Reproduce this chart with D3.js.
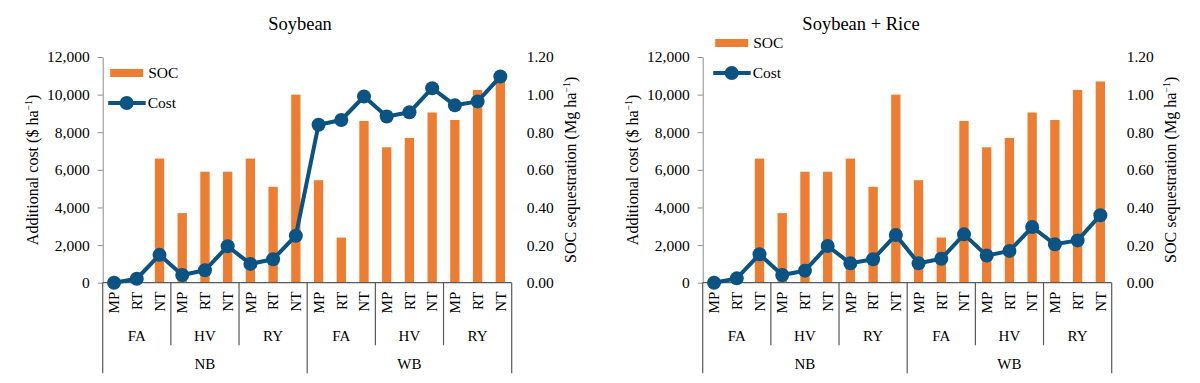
<!DOCTYPE html>
<html>
<head>
<meta charset="utf-8">
<script src="https://cdn.jsdelivr.net/npm/d3@7"></script>
<style>
  body { margin: 0; background: #fff; }
</style>
</head>
<body>
<div id="chart"></div>
<script>
// categories
var basins = ["NB", "WB"];
var rotations = ["FA", "HV", "RY"];
var tillage = ["MP", "RT", "NT"];

// SOC sequestration (Mg/ha), same in both panels
var socValues = [0, 0, 0.66, 0.37, 0.59, 0.59, 0.66, 0.51, 1.00,
                 0.545, 0.24, 0.86, 0.72, 0.77, 0.905, 0.865, 1.025, 1.07];

// additional cost ($/ha)
var costSoybean = [0, 210, 1480, 410, 660, 1940, 1000, 1250, 2500,
                   8400, 8650, 9900, 8840, 9060, 10340, 9430, 9640, 10960];
var costSoybeanRice = [0, 230, 1510, 410, 640, 1950, 1030, 1250, 2540,
                       1030, 1270, 2570, 1440, 1690, 2960, 2040, 2250, 3590];

var costTicks = [0, 2000, 4000, 6000, 8000, 10000, 12000];
var socTicks = [0, 0.2, 0.4, 0.6, 0.8, 1.0, 1.2];

var orange = "#ED7D31";
var navy = "#0B5382";
var serif = "'Liberation Serif'";

function init() {
    var svg = d3.select("#chart")
        .append("svg")
        .attr("width", 1200)
        .attr("height", 383);

    svg.append("rect").attr("width", 1200).attr("height", 383).attr("fill", "#fff");

    panel(svg, 0, "Soybean", 300, costSoybean, { y1: 16, y2: 46, dx: 0 });
    panel(svg, 600, "Soybean + Rice", 861, costSoybeanRice, { y1: -14, y2: 16, dx: 5 });

    // d3 axes put their own font on the group, so set the face on every label
    svg.selectAll("g").attr("font-family", null);
    svg.selectAll("text").style("font-family", serif).style("fill", "#000");
}

function panel(svg, offset, title, titleX, costs, leg) {
    var left = 102.7, top = 57, w = 409, h = 225.7;

    // flatten the three category levels
    var cats = [];
    basins.forEach(function (b) {
        rotations.forEach(function (r) {
            tillage.forEach(function (t) {
                cats.push({ basin: b, rot: r, till: t, key: b + r + t });
            });
        });
    });
    cats.forEach(function (c, i) {
        c.soc = socValues[i];
        c.cost = costs[i];
    });

    svg.append("text")
        .attr("x", titleX)
        .attr("y", 30)
        .attr("text-anchor", "middle")
        .style("font-size", "18.5px")
        .text(title);

    var g = svg.append("g")
        .attr("transform", "translate(" + (offset + left) + "," + top + ")");

    var xScale = d3.scaleBand()
        .domain(cats.map(function (d) { return d.key; }))
        .range([0, w]);

    var costScale = d3.scaleLinear().domain([0, 12000]).range([h, 0]);
    var socScale = d3.scaleLinear().domain([0, 1.2]).range([h, 0]);

    var barW = xScale.bandwidth() * 0.41;

    // left axis
    var yAxis = g.append("g")
        .call(d3.axisLeft(costScale)
            .tickValues(costTicks)
            .tickFormat(d3.format(","))
            .tickSize(5)
            .tickSizeOuter(0)
            .tickPadding(8));
    yAxis.select(".domain").attr("stroke", "#8c8c8c");
    yAxis.selectAll(".tick line").attr("stroke", "#8c8c8c");
    yAxis.selectAll("text").style("font-size", "15.5px");

    // right axis (no line)
    var y2Axis = g.append("g")
        .attr("transform", "translate(" + w + ",0)")
        .call(d3.axisRight(socScale)
            .tickValues(socTicks)
            .tickFormat(d3.format(".2f"))
            .tickSize(0)
            .tickPadding(15));
    y2Axis.select(".domain").remove();
    y2Axis.selectAll("text").style("font-size", "15.5px");

    // bars
    g.selectAll(".bar")
        .data(cats)
        .enter()
        .append("rect")
        .attr("class", "bar")
        .attr("x", function (d) { return xScale(d.key) + (xScale.bandwidth() - barW) / 2; })
        .attr("width", barW)
        .attr("y", function (d) { return socScale(d.soc); })
        .attr("height", function (d) { return h - socScale(d.soc); })
        .attr("fill", orange);

    // category axis
    g.append("line")
        .attr("x1", 0).attr("x2", w)
        .attr("y1", h).attr("y2", h)
        .attr("stroke", "#595959").attr("stroke-width", 1.2);

    var step = xScale.step();
    for (var i = 0; i <= cats.length; i += 3) {
        var xs = i * step;
        var long = (i % 9 === 0);
        g.append("line")
            .attr("x1", xs).attr("x2", xs)
            .attr("y1", h).attr("y2", h + (long ? 90.5 : 62.5))
            .attr("stroke", "#595959").attr("stroke-width", 1.2);
    }

    g.selectAll(".tillLabel")
        .data(cats)
        .enter()
        .append("text")
        .attr("class", "tillLabel")
        .attr("transform", function (d) {
            return "translate(" + (xScale(d.key) + xScale.bandwidth() / 2) + "," + (h + 9) + ") rotate(-90)";
        })
        .attr("dy", "0.35em")
        .attr("text-anchor", "end")
        .style("font-size", "15px")
        .text(function (d) { return d.till; });

    var rotGroups = cats.filter(function (d, i) { return i % 3 === 0; });
    g.selectAll(".rotLabel")
        .data(rotGroups)
        .enter()
        .append("text")
        .attr("class", "rotLabel")
        .attr("x", function (d) { return xScale(d.key) + step * 1.5; })
        .attr("y", h + 58.5)
        .attr("text-anchor", "middle")
        .style("font-size", "15px")
        .text(function (d) { return d.rot; });

    var basinGroups = cats.filter(function (d, i) { return i % 9 === 0; });
    g.selectAll(".basinLabel")
        .data(basinGroups)
        .enter()
        .append("text")
        .attr("class", "basinLabel")
        .attr("x", function (d) { return xScale(d.key) + step * 4.5; })
        .attr("y", h + 86.5)
        .attr("text-anchor", "middle")
        .style("font-size", "15px")
        .text(function (d) { return d.basin; });

    // cost line
    var line = d3.line()
        .x(function (d) { return xScale(d.key) + xScale.bandwidth() / 2; })
        .y(function (d) { return costScale(d.cost); });

    g.append("path")
        .datum(cats)
        .attr("d", line)
        .attr("fill", "none")
        .attr("stroke", navy)
        .attr("stroke-width", 4)
        .attr("stroke-linejoin", "round");

    g.selectAll(".dot")
        .data(cats)
        .enter()
        .append("circle")
        .attr("class", "dot")
        .attr("cx", function (d) { return xScale(d.key) + xScale.bandwidth() / 2; })
        .attr("cy", function (d) { return costScale(d.cost); })
        .attr("r", 7)
        .attr("fill", navy);

    // axis titles
    var t1 = svg.append("text")
        .attr("transform", "translate(" + (offset + 32) + "," + (top + h / 2) + ") rotate(-90)")
        .attr("dy", "0.35em")
        .attr("text-anchor", "middle")
        .style("font-size", "16px");
    t1.append("tspan").text("Additional cost ($ ha");
    t1.append("tspan").attr("dy", -6).style("font-size", "10px").text("\u22121");
    t1.append("tspan").attr("dy", 6).text(")");

    var t2 = svg.append("text")
        .attr("transform", "translate(" + (offset + 570) + "," + (top + h / 2) + ") rotate(-90)")
        .attr("dy", "0.35em")
        .attr("text-anchor", "middle")
        .style("font-size", "16px");
    t2.append("tspan").text("SOC sequestration (Mg ha");
    t2.append("tspan").attr("dy", -6).style("font-size", "10px").text("\u22121");
    t2.append("tspan").attr("dy", 6).text(")");

    // legend
    var lg = g.append("g").attr("transform", "translate(" + leg.dx + ",0)");
    lg.append("rect")
        .attr("x", 7.5).attr("y", leg.y1 - 4)
        .attr("width", 33).attr("height", 8)
        .attr("fill", orange);
    lg.append("text")
        .attr("x", 45.5).attr("y", leg.y1)
        .attr("dy", "0.35em")
        .style("font-size", "15.5px")
        .text("SOC");
    lg.append("line")
        .attr("x1", 5.5).attr("x2", 43)
        .attr("y1", leg.y2).attr("y2", leg.y2)
        .attr("stroke", navy).attr("stroke-width", 4);
    lg.append("circle")
        .attr("cx", 24).attr("cy", leg.y2).attr("r", 7)
        .attr("fill", navy);
    lg.append("text")
        .attr("x", 45).attr("y", leg.y2)
        .attr("dy", "0.35em")
        .style("font-size", "15.5px")
        .text("Cost");
}

init();
</script>
</body>
</html>
